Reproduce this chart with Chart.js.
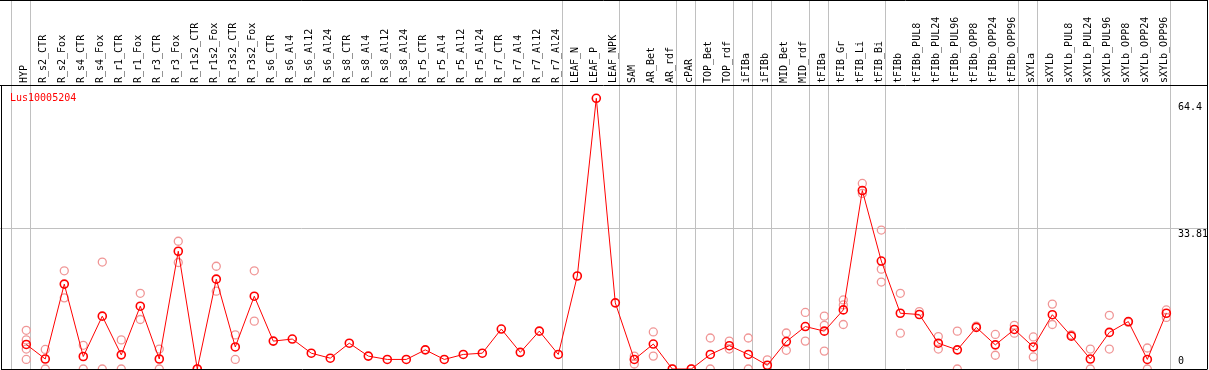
<!DOCTYPE html>
<html>
<head>
<meta charset="utf-8">
<script src="https://cdn.jsdelivr.net/npm/chart.js@4"></script>
<style>
  html, body { margin: 0; padding: 0; background: #fff; }
  canvas { display: block; }
</style>
</head>
<body>
<canvas id="myChart1" width="1209" height="370"></canvas>
<script>
// expression profile of one gene across samples

const geneName = 'Lus10005204';

const labels = ['HYP', 'R_s2_CTR', 'R_s2_Fox', 'R_s4_CTR', 'R_s4_Fox', 'R_r1_CTR', 'R_r1_Fox',
  'R_r3_CTR', 'R_r3_Fox', 'R_r1s2_CTR', 'R_r1s2_Fox', 'R_r3s2_CTR', 'R_r3s2_Fox',
  'R_s6_CTR', 'R_s6_Al4', 'R_s6_Al12', 'R_s6_Al24', 'R_s8_CTR', 'R_s8_Al4', 'R_s8_Al12',
  'R_s8_Al24', 'R_r5_CTR', 'R_r5_Al4', 'R_r5_Al12', 'R_r5_Al24', 'R_r7_CTR', 'R_r7_Al4',
  'R_r7_Al12', 'R_r7_Al24', 'LEAF_N', 'LEAF_P', 'LEAF_NPK', 'SAM', 'AR_Bet', 'AR_rdf',
  'cPAR', 'TOP_Bet', 'TOP_rdf', 'iFIBa', 'iFIBb', 'MID_Bet', 'MID_rdf', 'tFIBa', 'tFIB_Gr',
  'tFIB_Li', 'tFIB_Bi', 'tFIBb', 'tFIBb_PUL8', 'tFIBb_PUL24', 'tFIBb_PUL96', 'tFIBb_OPP8',
  'tFIBb_OPP24', 'tFIBb_OPP96', 'sXYLa', 'sXYLb', 'sXYLb_PUL8', 'sXYLb_PUL24',
  'sXYLb_PUL96', 'sXYLb_OPP8', 'sXYLb_OPP24', 'sXYLb_OPP96'];

// mean values
const means = [5.9, 2.4, 20.4, 3.0, 12.7, 3.4, 15.1, 2.4, 28.3, 0, 21.6, 5.3, 17.5,
  6.7, 7.2, 3.8, 2.6, 6.2, 3.1, 2.3, 2.3, 4.6, 2.3, 3.5, 3.8, 9.6, 4.0, 9.1, 3.5,
  22.35, 65.06, 15.9, 2.3, 6.0, 0, 0, 3.5, 5.6, 3.5, 0.9, 6.6, 10.2, 9.1, 14.2,
  42.9, 25.95, 13.4, 13.1, 6.2, 4.6, 10.0, 5.8, 9.5, 5.3, 13.05, 7.9, 2.4, 8.8, 11.4, 2.3, 13.4];

// replicate values per sample
const replicates = [
  [9.3, 7.0, 4.8, 2.3], [4.7, 0], [23.6, 17.1], [5.7, 0], [25.7, 0], [7.0, 0], [18.2, 11.9],
  [4.8, 0], [30.7, 25.6], [0], [24.7, 18.7], [8.2, 2.3], [23.6, 11.5],
  [], [], [], [], [], [], [], [], [], [], [], [], [], [], [], [], [], [], [],
  [3.1, 1.2], [8.9, 3.1], [0], [0], [7.45, 0], [6.7, 4.8], [7.45, 0], [2.2],
  [8.65, 4.5], [13.6, 6.7], [12.7, 10.5, 4.3], [16.6, 15.4, 10.7], [44.6, 42.2],
  [33.4, 24.0, 20.9], [18.2, 8.6], [13.8], [7.8, 4.8], [9.1, 0], [10.3], [8.3, 3.3],
  [10.5, 8.6], [7.7, 2.9], [15.6, 10.7], [8.2], [4.8, 0], [12.9, 4.8], [11.2], [5.05, 0],
  [14.2, 12.4]
];

const yTicks = [0, 33.81, 64.4];
// group separators sit after these sample indexes
const groupEnds = [-1, 0, 28, 31, 34, 35, 37, 38, 39, 41, 42, 45, 52, 53, 60];

const meanPts = means.map((v, i) => ({x: i, y: v}));
const repPts = [];
for (i = 0; i < replicates.length; i++) {
    replicates[i].forEach(v => repPts.push({x: i, y: v}));
}

const frame = {
    id: 'frame',
    beforeDraw(chart) {
        const c = chart.ctx, a = chart.chartArea;
        const sx = chart.scales.x, sy = chart.scales.y;
        c.save();
        c.strokeStyle = '#c0c0c0';
        c.lineWidth = 1;
        c.beginPath();
        const gy = Math.round(sy.getPixelForValue(yTicks[1])) + 0.5;
        c.moveTo(0, gy); c.lineTo(a.right, gy);
        groupEnds.forEach(s => {
            const px = Math.round(sx.getPixelForValue(s + 0.21)) + 0.5;
            c.moveTo(px, 0); c.lineTo(px, a.bottom);
        });
        c.stroke();
        c.restore();
    },
    afterDraw(chart) {
        const c = chart.ctx, a = chart.chartArea, sy = chart.scales.y;
        c.save();
        c.strokeStyle = '#000';
        c.lineWidth = 1;
        c.beginPath();
        c.moveTo(0, 0.5); c.lineTo(a.right + 0.5, 0.5);
        c.moveTo(a.right + 0.5, 0); c.lineTo(a.right + 0.5, a.bottom + 0.5);
        c.moveTo(0, a.top + 0.5); c.lineTo(a.right, a.top + 0.5);
        c.moveTo(a.left + 0.5, a.top); c.lineTo(a.left + 0.5, a.bottom + 0.5);
        c.moveTo(a.left, a.bottom + 0.5); c.lineTo(a.right, a.bottom + 0.5);
        c.stroke();

        c.font = '10px "DejaVu Sans Mono"';
        c.fillStyle = '#000';
        c.textAlign = 'left';
        yTicks.forEach(t => {
            const py = sy.getPixelForValue(t);
            if (t === 0) {
                c.textBaseline = 'bottom';
                c.fillText(String(t), a.right - 29, py - 3);
            } else {
                c.textBaseline = 'top';
                c.fillText(String(t), a.right - 29, py + 1);
            }
        });

        c.fillStyle = '#ff0000';
        c.textBaseline = 'middle';
        c.fillText(geneName, a.left + 9, a.top + 13);
        c.restore();
    }
};

function noPad(scale) {
    scale.paddingLeft = 0;
    scale.paddingRight = 0;
    scale.paddingTop = 0;
    scale.paddingBottom = 0;
}

const ctx = document.getElementById('myChart1');
const myChart1 = new Chart(ctx, {
    type: 'line',
    data: {
        datasets: [{
            label: 'mean',
            data: meanPts,
            borderColor: '#ff0000',
            borderWidth: 1,
            pointRadius: 4,
            pointBorderWidth: 1.6,
            pointBorderColor: '#ff0000',
            pointBackgroundColor: 'rgba(0,0,0,0)',
            tension: 0
        }, {
            label: 'replicates',
            data: repPts,
            showLine: false,
            pointRadius: 4,
            pointBorderWidth: 1.3,
            pointBorderColor: 'rgb(240,150,150)',
            pointBackgroundColor: 'rgba(0,0,0,0)'
        }]
    },
    options: {
        responsive: false,
        animation: false,
        devicePixelRatio: 1,
        layout: { autoPadding: false, padding: { left: 1, right: 2, top: 0, bottom: 1 } },
        plugins: {
            legend: { display: false },
            tooltip: { enabled: false }
        },
        scales: {
            x: {
                type: 'linear',
                position: 'top',
                min: -1.33,
                max: 62.14,
                afterBuildTicks: (scale) => {
                    scale.ticks = labels.map((l, i) => ({value: i}));
                },
                afterFit: (scale) => { scale.height = 85; noPad(scale); },
                grid: { display: false, drawTicks: false },
                border: { display: false },
                ticks: {
                    autoSkip: false,
                    minRotation: 90,
                    maxRotation: 90,
                    padding: 2,
                    labelOffset: 10,
                    color: '#000',
                    font: { family: 'DejaVu Sans Mono', size: 10 },
                    callback: (v) => labels[v]
                }
            },
            y: {
                display: false,
                min: 0,
                max: 68.26,
                afterFit: (scale) => { scale.width = 0; noPad(scale); }
            }
        }
    },
    plugins: [frame]
});
</script>
</body>
</html>
